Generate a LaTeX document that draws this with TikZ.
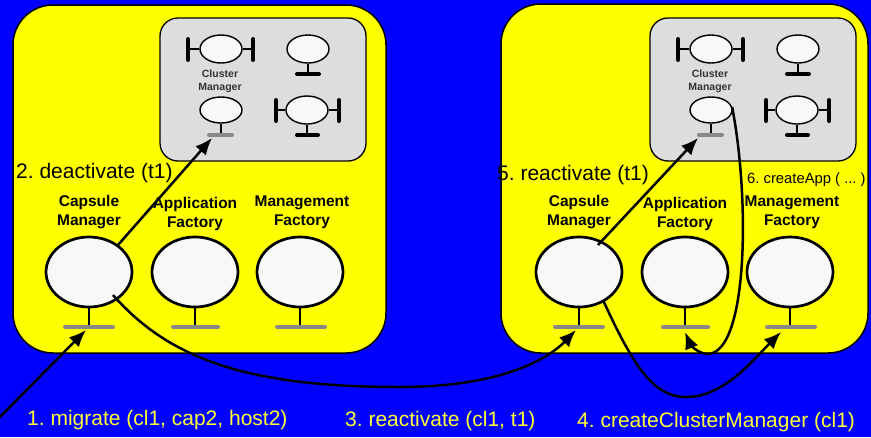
\documentclass[tikz,border=0pt]{standalone}
\usepackage{fontspec}
\setmainfont{Liberation Sans}
\usetikzlibrary{arrows.meta,shapes.geometric}
\definecolor{bgblue}{HTML}{0000FF}
\definecolor{yel}{HTML}{FFFF00}
\definecolor{ytext}{HTML}{FFFF33}
\definecolor{gry}{HTML}{DDDDDD}
\definecolor{ellfill}{HTML}{F8F8F8}
\definecolor{barg}{HTML}{888888}
\tikzset{
  ybox/.style={rectangle, draw=black, line width=1.5pt, fill=yel, rounded corners=40pt, inner sep=0pt},
  gbox/.style={rectangle, draw=black, line width=1.3pt, fill=gry, rounded corners=18pt, inner sep=0pt},
  bigell/.style={ellipse, draw=black, line width=2.7pt, fill=ellfill, minimum width=86pt, minimum height=70pt, inner sep=0pt},
  smell/.style={ellipse, draw=black, line width=1.4pt, fill=ellfill, minimum width=42pt, minimum height=28pt, inner sep=0pt},
  stemline/.style={line width=1.8pt},
  smstem/.style={line width=1.2pt},
  blkbar/.style={line width=4pt, line cap=round},
  grybar/.style={line width=4pt, line cap=round, draw=barg},
  biglbl/.style={font=\fontsize{15.5}{19}\selectfont\bfseries, align=center, inner sep=0pt},
  smlbl/.style={font=\fontsize{10.5}{13}\selectfont\bfseries, text=black!80, align=center, inner sep=0pt},
  msg/.style={font=\fontsize{21}{25}\selectfont, anchor=west, inner sep=0pt},
  conn/.style={line width=2.5pt, -{Latex[length=17pt,width=14pt]}},
}
\newcommand\panelcontent[1]{%
  \node[gbox, minimum width=206pt, minimum height=143pt] (#1gb) at (263,89.5) {};
  % top-left component with two side bars
  \node[smell] (#1a) at (221,49) {};
  \draw[smstem] (#1a.west) -- (188,49);
  \draw[smstem] (#1a.east) -- (253,49);
  \draw[blkbar] (188,39) -- (188,60);
  \draw[blkbar] (253,39) -- (253,60);
  % top-right component
  \node[smell] (#1b) at (308,49) {};
  \draw[smstem] (#1b.south) -- (308,74);
  \draw[blkbar] (297,74) -- (319,74);
  % cluster manager
  \node[smlbl] (#1cml) at (220,81.5) {Cluster\\Manager};
  \node[smell, minimum height=26pt] (#1cm) at (221,110) {};
  \draw[smstem] (#1cm.south) -- (221,135);
  \draw[grybar] (209,135) -- (232,135);
  \coordinate (#1cmbar) at (212,138);
  % bottom-right component
  \node[smell] (#1d) at (307,110) {};
  \draw[smstem] (#1d.west) -- (276,110);
  \draw[smstem] (#1d.east) -- (339,110);
  \draw[blkbar] (276,100) -- (276,121);
  \draw[blkbar] (339,100) -- (339,121);
  \draw[smstem] (#1d.south) -- (307,135);
  \draw[blkbar] (297,135) -- (318,135);
  % big components
  \node[biglbl] (#1caplbl) at (89,212.5) {Capsule\\Manager};
  \node[biglbl] (#1applbl) at (195,213.5) {Application\\Factory};
  \node[biglbl] (#1mgtlbl) at (302,212.5) {Management\\Factory};
  \node[bigell] (#1cap) at (89,272) {};
  \node[bigell] (#1app) at (195,272) {};
  \node[bigell] (#1mgt) at (300,272) {};
  \draw[stemline] (#1cap.south) -- (89,327);
  \draw[stemline] (#1app.south) -- (195,327);
  \draw[stemline] (#1mgt.south) -- (300,327);
  \draw[grybar] (65,327) -- (113,327);
  \draw[grybar] (173,327) -- (218,327);
  \draw[grybar] (277,327) -- (325,327);
}
\begin{document}
\frenchspacing
\begin{tikzpicture}[x=1pt,y=-1pt]
  \useasboundingbox (0,0) rectangle (871,437);
  \clip (0,0) rectangle (871,437);
  \fill[bgblue] (0,0) rectangle (871,437);
  % host boxes
  \node[ybox, minimum width=373pt, minimum height=348pt] (Lhost) at (199.5,179) {};
  \node[ybox, minimum width=367pt, minimum height=349pt] (Rhost) at (684.5,178.5) {};
  \panelcontent{L}
  \begin{scope}[xshift=490pt]
    \panelcontent{R}
  \end{scope}
  % message labels
  \node[msg] (m2) at (16,173) {2. deactivate (t1)};
  \node[msg] (m5) at (497,175) {5. reactivate (t1)};
  \node[msg, font=\fontsize{14.8}{18}\selectfont] (m6) at (747,180) {6. createApp ( ... )};
  \node[msg, text=ytext] (m1) at (27,420) {1. migrate (cl1, cap2, host2)};
  \node[msg, text=ytext] (m3) at (345,421) {3. reactivate (cl1, t1)};
  \node[msg, text=ytext] (m4) at (577,422) {4. createClusterManager (cl1)};
  % connector end points
  \coordinate (src) at (-8,425);
  \coordinate (capbarL) at (86,330);
  \coordinate (s3) at (113,295);
  \coordinate (capbarR) at (576,330);
  \coordinate (s5) at (598,245);
  \coordinate (s4) at (603,300);
  \coordinate (mgtbarR) at (781,332);
  \coordinate (appbarR) at (685,332);
  % connectors
  \draw[conn] (src) -- (capbarL);
  \draw[conn] (Lcap.43) -- (Lcmbar);
  \draw[conn] (s3) .. controls (170,360) and (250,387) .. (400,387)
                   .. controls (495,387) and (545,362) .. (capbarR);
  \draw[conn] (s5) -- ([xshift=-4pt]Rcmbar);
  \draw[conn] (s4) .. controls (635,370) and (655,398) .. (688,397)
                   .. controls (725,396) and (755,358) .. (mgtbarR);
  \draw[conn] (Rcm.8) .. controls (750,200) and (748,352) .. (708,354)
                      .. controls (698,354) and (690,344) .. (appbarR);
\end{tikzpicture}
\end{document}
